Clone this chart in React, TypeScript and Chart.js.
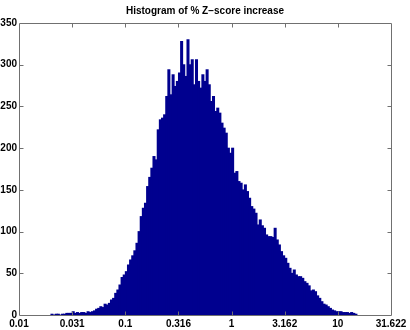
import React, { useEffect, useRef } from 'react';
import { Chart, registerables } from 'chart.js';

Chart.register(...registerables);

// Histogram bins in log10 units
const binStartLog = -1.7;
const binWidthLog = 0.02;

const counts = [
  1, 0, 1, 1, 0, 1, 1, 2, 2, 2,
  4, 2, 3, 2, 3, 3, 2, 4, 3, 4,
  5, 7, 8, 10, 9, 13, 12, 14, 18, 20,
  26, 30, 36, 45, 48, 52, 60, 66, 71, 77,
  86, 100, 118, 128, 134, 154, 165, 176, 190, 186,
  222, 234, 236, 240, 262, 294, 264, 288, 274, 280,
  290, 328, 300, 286, 330, 300, 306, 276, 306, 280,
  272, 288, 280, 294, 276, 256, 262, 244, 248, 242,
  230, 224, 218, 200, 194, 200, 170, 172, 160, 158,
  150, 156, 148, 140, 130, 127, 122, 108, 114, 107,
  104, 96, 94, 94, 93, 104, 90, 84, 76, 71,
  68, 62, 56, 50, 54, 48, 46, 46, 44, 40,
  38, 35, 29, 30, 28, 23, 20, 16, 13, 12,
  10, 8, 6, 5, 4, 4, 4, 3, 3, 3,
  2, 3, 2, 1,
];

const xTickLabels = ['0.01', '0.031', '0.1', '0.316', '1', '3.162', '10', '31.622'];
const xMinLog = -2;
const xMaxLog = 1.5;
const xStepLog = 0.5;
const yMin = 0;
const yMax = 350;
const yStep = 50;
const titleText = 'Histogram of % Z\u2212score increase';

const axisColor = '#707070';
const barColor = 'rgb(0,0,143)';
const fontFamily = '"Liberation Sans", Arial, Helvetica, sans-serif';

const boxPlugin = {
  id: 'matlabBox',
  afterDatasetsDraw(chart: any) {
    const { ctx, chartArea } = chart;
    const { left, right, top, bottom } = chartArea;
    const xs = chart.scales.x;
    const ys = chart.scales.y;
    ctx.save();
    ctx.strokeStyle = axisColor;
    ctx.lineWidth = 1;
    ctx.beginPath();
    ctx.rect(left + 0.5, top + 0.5, right - left, bottom - top);
    ctx.stroke();
    const tl = 4;
    ctx.beginPath();
    for (let v = xMinLog + xStepLog; v < xMaxLog - 1e-9; v += xStepLog) {
      const px = Math.round(xs.getPixelForValue(v)) + 0.5;
      ctx.moveTo(px, bottom + 0.5);
      ctx.lineTo(px, bottom + 0.5 - tl);
      ctx.moveTo(px, top + 0.5);
      ctx.lineTo(px, top + 0.5 + tl);
    }
    for (let v = yMin + yStep; v < yMax; v += yStep) {
      const py = Math.round(ys.getPixelForValue(v)) + 0.5;
      ctx.moveTo(left + 0.5, py);
      ctx.lineTo(left + 0.5 + tl, py);
      ctx.moveTo(right + 0.5, py);
      ctx.lineTo(right + 0.5 - tl, py);
    }
    ctx.stroke();
    ctx.fillStyle = '#000';
    ctx.font = `bold 10px ${fontFamily}`;
    ctx.textAlign = 'center';
    ctx.textBaseline = 'middle';
    ctx.fillText(titleText, (left + right) / 2, 11);
    ctx.restore();
  },
};

export default function App() {
  const ref = useRef<HTMLCanvasElement | null>(null);
  useEffect(() => {
    document.body.style.margin = '0';
    const canvas = ref.current!;
    const data = counts.map((c, i) => ({ x: binStartLog + binWidthLog * (i + 0.5), y: c }));
    const chart = new Chart(canvas, {
      type: 'bar',
      data: {
        datasets: [
          {
            data,
            backgroundColor: barColor,
            borderWidth: 0,
            inflateAmount: 0.45,
            barPercentage: 1,
            categoryPercentage: 1,
          } as any,
        ],
      },
      options: {
        animation: false,
        responsive: false,
        devicePixelRatio: 1,
        layout: { padding: { top: 23, right: 19, left: 0, bottom: 0 } },
        plugins: { legend: { display: false }, title: { display: false }, tooltip: { enabled: false } },
        scales: {
          x: {
            type: 'linear',
            min: xMinLog,
            max: xMaxLog,
            offset: false,
            grid: { display: false, drawTicks: false, tickLength: 0 },
            border: { display: false },
            ticks: {
              stepSize: xStepLog,
              autoSkip: false,
              maxRotation: 0,
              padding: 3,
              color: '#000',
              font: { family: fontFamily, size: 10, weight: 'bold' },
              callback: (v: any) => xTickLabels[Math.round((Number(v) - xMinLog) / xStepLog)] ?? '',
            },
            afterFit: (s: any) => { s.height = 15; },
          },
          y: {
            type: 'linear',
            min: yMin,
            max: yMax,
            grid: { display: false, drawTicks: false, tickLength: 0 },
            border: { display: false },
            ticks: {
              stepSize: yStep,
              padding: 2,
              color: '#000',
              font: { family: fontFamily, size: 10, weight: 'bold' },
            },
            afterFit: (s: any) => { s.width = 19; },
          },
        },
      },
      plugins: [boxPlugin],
    });
    return () => chart.destroy();
  }, []);
  return (
    <div style={{ position: 'absolute', left: 0, top: 0, width: 410, height: 330, background: '#fff' }}>
      <canvas ref={ref} width={410} height={330} style={{ width: 410, height: 330 }} />
    </div>
  );
}
